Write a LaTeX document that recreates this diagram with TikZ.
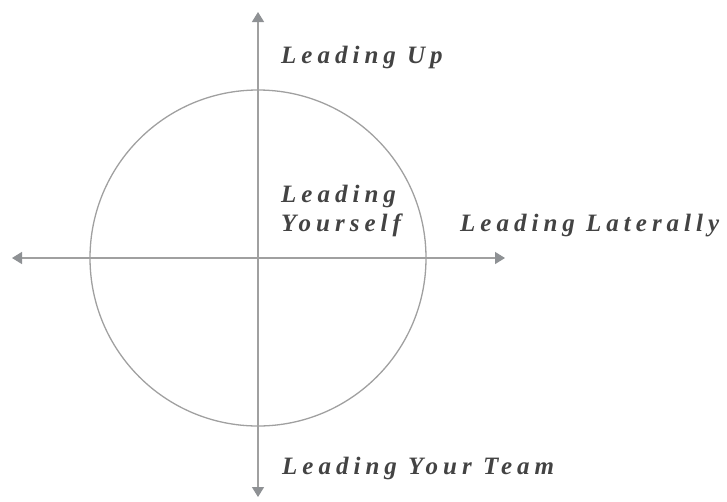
\documentclass[tikz,border=0pt]{standalone}
\usepackage{fontspec}
\setmainfont{Liberation Serif}
\newfontfamily\spacedfont[LetterSpace=20]{Liberation Serif}
\usetikzlibrary{arrows.meta}
\definecolor{axisgray}{HTML}{A0A0A0}
\definecolor{tipgray}{HTML}{8E9194}
\definecolor{textgray}{HTML}{434343}
\tikzset{
	lbl/.style={anchor=base west,inner sep=0pt,text=textgray,
		font=\spacedfont\bfseries\itshape\fontsize{25}{29}\selectfont},
	axis/.style={axisgray,line width=1.3pt,
		{Triangle[width=12pt,length=10pt,color=tipgray]}-{Triangle[width=12pt,length=10pt,color=tipgray]}}
}
\begin{document}
\begin{tikzpicture}[x=1pt,y=-1pt]
	\useasboundingbox (0,0) rectangle (727,501);
	\draw [axis] (12,258) -- (505,258);
	\draw [axis] (258,497) -- (258,12);
	\draw [axisgray,line width=1.3pt] (258,258) circle [radius=168];
	\node [lbl] (up) at (281,63) {Leading Up};
	\node [lbl] (self1) at (281,202) {Leading};
	\node [lbl] (self2) at (281,231) {Yourself};
	\node [lbl] (lateral) at (460,231) {Leading Laterally};
	\node [lbl] (team) at (282,474) {Leading Your Team};
\end{tikzpicture}
\end{document}
